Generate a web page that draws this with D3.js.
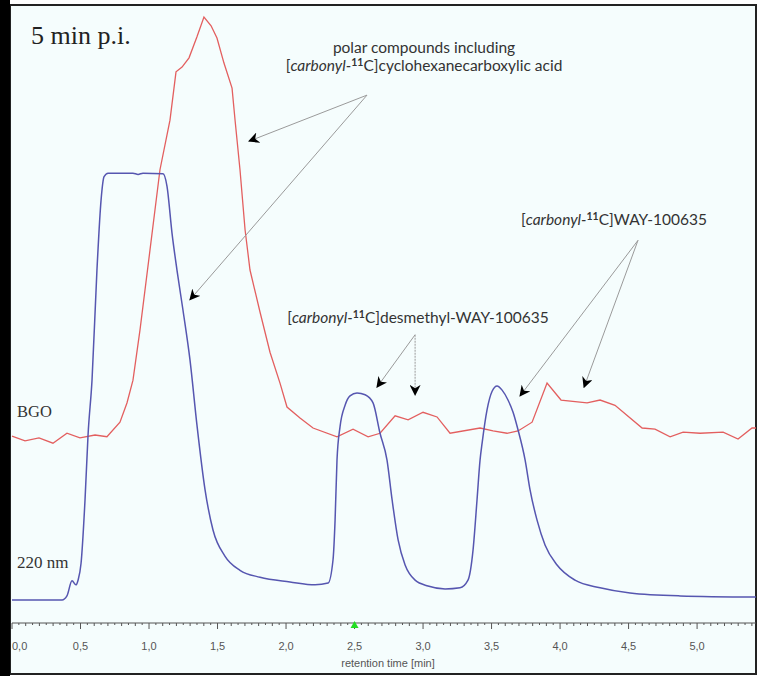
<!DOCTYPE html>
<html>
<head>
<meta charset="utf-8">
<script src="https://cdn.jsdelivr.net/npm/d3@7"></script>
<style>
body { margin: 0; background: #fff; }
</style>
</head>
<body>
<svg id="chart" width="758" height="676"></svg>
<script>
// BGO radio trace (retention time [min], signal in arbitrary units)
var bgoTime = [0, 0.095, 0.197, 0.299, 0.401, 0.496, 0.606, 0.693, 0.788, 0.839, 0.883, 0.934, 1.007, 1.080, 1.153,
    1.197, 1.241, 1.292, 1.350, 1.401, 1.453, 1.496, 1.547, 1.606, 1.628, 1.664, 1.701, 1.737, 1.810, 1.883, 1.956,
    2.007, 2.102, 2.197, 2.372, 2.489, 2.599, 2.686, 2.796, 2.891, 3.000, 3.102, 3.197, 3.416, 3.511, 3.613, 3.693,
    3.796, 3.905, 4.007, 4.197, 4.292, 4.401, 4.599, 4.693, 4.803, 4.898, 5.022, 5.190, 5.299, 5.401, 5.43];
var bgoSignal = [28.1, 27.3, 27.8, 26.9, 28.6, 27.8, 28.3, 28.0, 30.5, 33.8, 37.7, 46.3, 60.0, 73.8, 82.3,
    90.6, 91.4, 93.0, 96.6, 100, 98.5, 96.4, 92.1, 87.8, 82.3, 73.8, 63.5, 56.6, 49.4, 42.5, 37.2,
    33.1, 31.2, 29.5, 28.0, 29.3, 28.0, 28.6, 31.6, 30.9, 32.2, 31.4, 28.6, 29.5, 29.0, 28.6, 29.0,
    30.5, 37.2, 34.3, 33.8, 34.3, 33.4, 29.5, 29.3, 28.0, 28.8, 28.6, 28.8, 27.6, 29.5, 29.5];

// UV trace at 220 nm
var uvTime = [0, 0.365, 0.401, 0.438, 0.467, 0.482, 0.504, 0.533, 0.555, 0.584, 0.620, 0.650, 0.672, 0.701, 0.883,
    0.920, 0.956, 1.102, 1.131, 1.168, 1.204, 1.248, 1.299, 1.350, 1.409, 1.467, 1.555, 1.664, 1.810, 2.029, 2.212,
    2.307, 2.343, 2.358, 2.372, 2.394, 2.431, 2.467, 2.518, 2.577, 2.635, 2.686, 2.737, 2.774, 2.818, 2.869, 2.942,
    3.036, 3.161, 3.270, 3.328, 3.365, 3.394, 3.416, 3.431, 3.467, 3.504, 3.540, 3.577, 3.620, 3.657, 3.693, 3.745,
    3.781, 3.832, 3.891, 3.978, 4.109, 4.292, 4.511, 4.876, 5.43];
var uvSignal = [0, 0, 0.7, 3.3, 2.6, 3.4, 6.3, 17.2, 28.3, 37.7, 56.6, 68.6, 72.6, 73.2, 73.2,
    73.0, 73.2, 73.1, 71.0, 62.9, 56.6, 49.7, 41.2, 30.0, 18.9, 12.0, 7.5, 5.1, 3.9, 3.1, 2.6,
    2.9, 6.9, 13.7, 24.0, 29.7, 33.4, 35.0, 35.5, 35.2, 33.8, 28.6, 24.0, 17.2, 10.3, 6.0, 3.4,
    2.4, 1.9, 2.1, 3.4, 8.6, 17.2, 24.0, 26.9, 32.6, 35.8, 36.7, 36.0, 34.3, 32.2, 29.2, 24.0,
    18.9, 13.7, 9.4, 6.0, 3.4, 2.1, 1.2, 0.7, 0.5];

var majorTicks = [0, 0.5, 1.0, 1.5, 2.0, 2.5, 3.0, 3.5, 4.0, 4.5, 5.0];
var tickLabels = ["0,0", "0,5", "1,0", "1,5", "2,0", "2,5", "3,0", "3,5", "4,0", "4,5", "5,0"];

// arrows: start point and tip, in [time, signal]
var arrowStarts = [[2.591, 86.6], [2.591, 86.6], [2.942, 45.5], [2.942, 45.5], [4.569, 61.7], [4.569, 61.7]];
var arrowTips = [[1.730, 78.7], [1.299, 51.5], [2.664, 36.5], [2.942, 35.2], [3.708, 35.0], [4.175, 36.5]];
var arrowDashed = [false, false, false, true, false, false];

var svg = d3.select("#chart");
var x = d3.scaleLinear().domain([0, 5.43]).range([12, 756]);
var y = d3.scaleLinear().domain([0, 100]).range([600, 17]);

// panel frame
svg.append("rect")
    .attr("x", 10).attr("y", 5)
    .attr("width", 746).attr("height", 669)
    .attr("fill", "#f5fdfd")
    .attr("stroke", "#222")
    .attr("stroke-width", 2);
svg.append("rect")
    .attr("x", 0).attr("y", 0)
    .attr("width", 10).attr("height", 676)
    .attr("fill", "#000");

var defs = svg.append("defs");
defs.append("marker")
    .attr("id", "head")
    .attr("viewBox", "0 0 10 10")
    .attr("refX", 9).attr("refY", 5)
    .attr("markerWidth", 11).attr("markerHeight", 11)
    .attr("markerUnits", "userSpaceOnUse")
    .attr("orient", "auto")
    .append("path")
    .attr("d", "M0,0 L10,5 L0,10 L3,5 Z")
    .attr("fill", "#000");

var plot = svg.append("g");

var line = d3.line()
    .x(function (d) { return x(d[0]); })
    .y(function (d) { return y(d[1]); });

plot.append("path")
    .datum(bgoTime.map(function (t, i) { return [t, bgoSignal[i]]; }))
    .attr("d", line.curve(d3.curveLinear))
    .attr("fill", "none")
    .attr("stroke", "#e35f5f")
    .attr("stroke-width", 1.3);

plot.append("path")
    .datum(uvTime.map(function (t, i) { return [t, uvSignal[i]]; }))
    .attr("d", line.curve(d3.curveMonotoneX))
    .attr("fill", "none")
    .attr("stroke", "#5656b0")
    .attr("stroke-width", 1.5);

// arrows
arrowStarts.forEach(function (s, i) {
    plot.append("line")
        .attr("x1", x(s[0])).attr("y1", y(s[1]))
        .attr("x2", x(arrowTips[i][0])).attr("y2", y(arrowTips[i][1]))
        .attr("stroke", "#9a9a9a")
        .attr("stroke-width", 1)
        .attr("stroke-dasharray", arrowDashed[i] ? "2,1" : null)
        .attr("marker-end", "url(#head)");
});

// x axis
var axisY = 623;
var axis = svg.append("g").attr("transform", "translate(0," + axisY + ")");
axis.append("line")
    .attr("x1", x(0)).attr("x2", x(5.43))
    .attr("stroke", "#555");
var minor = d3.range(0, 5.44, 0.05);
axis.selectAll(".minor")
    .data(minor)
    .enter()
    .append("line")
    .attr("class", "minor")
    .attr("x1", function (d) { return x(d); })
    .attr("x2", function (d) { return x(d); })
    .attr("y1", 0)
    .attr("y2", function (d, i) { return i % 10 === 0 ? 6 : (i % 2 === 0 ? 3 : 2); })
    .attr("stroke", "#555");
axis.selectAll(".lbl")
    .data(majorTicks)
    .enter()
    .append("text")
    .attr("class", "lbl")
    .attr("x", function (d) { return x(d); })
    .attr("y", 27)
    .attr("text-anchor", function (d, i) { return i === 0 ? "start" : "middle"; })
    .attr("font-family", "Liberation Sans, Arial, sans-serif")
    .attr("font-size", "11px")
    .attr("fill", "#555")
    .text(function (d, i) { return tickLabels[i]; });
axis.append("text")
    .attr("x", 388)
    .attr("y", 44)
    .attr("text-anchor", "middle")
    .attr("font-family", "Liberation Sans, Arial, sans-serif")
    .attr("font-size", "11px")
    .attr("fill", "#555")
    .text("retention time [min]");
// green marker at 2.5 min
axis.append("path")
    .attr("d", "M" + x(2.5) + ",-2 l-4,7 l8,0 Z")
    .attr("fill", "#22dd22");

// labels
svg.append("text")
    .attr("x", 31).attr("y", 44)
    .attr("font-family", "Liberation Serif, serif")
    .attr("font-size", "26px")
    .attr("fill", "#222")
    .text("5 min p.i.");
svg.append("text")
    .attr("x", 17).attr("y", 417)
    .attr("font-family", "Liberation Serif, serif")
    .attr("font-size", "16.5px")
    .attr("fill", "#333")
    .text("BGO");
svg.append("text")
    .attr("x", 17).attr("y", 568)
    .attr("font-family", "Liberation Serif, serif")
    .attr("font-size", "17px")
    .attr("fill", "#333")
    .text("220 nm");

function compoundLabel(cx, cy, rest) {
    var t = svg.append("text")
        .attr("x", cx).attr("y", cy)
        .attr("text-anchor", "middle")
        .attr("font-family", "Lato, Open Sans, sans-serif")
        .attr("font-size", "15.5px")
        .attr("fill", "#333");
    t.append("tspan").text("[");
    t.append("tspan").attr("font-style", "italic").text("carbonyl-");
    t.append("tspan").attr("dy", -5).attr("font-size", "10.5px").attr("font-weight", "bold").text("11");
    t.append("tspan").attr("dy", 5).text("C]" + rest);
}

svg.append("text")
    .attr("x", 424).attr("y", 53)
    .attr("text-anchor", "middle")
    .attr("font-family", "Lato, Open Sans, sans-serif")
    .attr("font-size", "15.5px")
    .attr("fill", "#333")
    .text("polar compounds including");
compoundLabel(424, 71, "cyclohexanecarboxylic acid");
compoundLabel(418, 323, "desmethyl-WAY-100635");
compoundLabel(614, 225, "WAY-100635");
</script>
</body>
</html>
